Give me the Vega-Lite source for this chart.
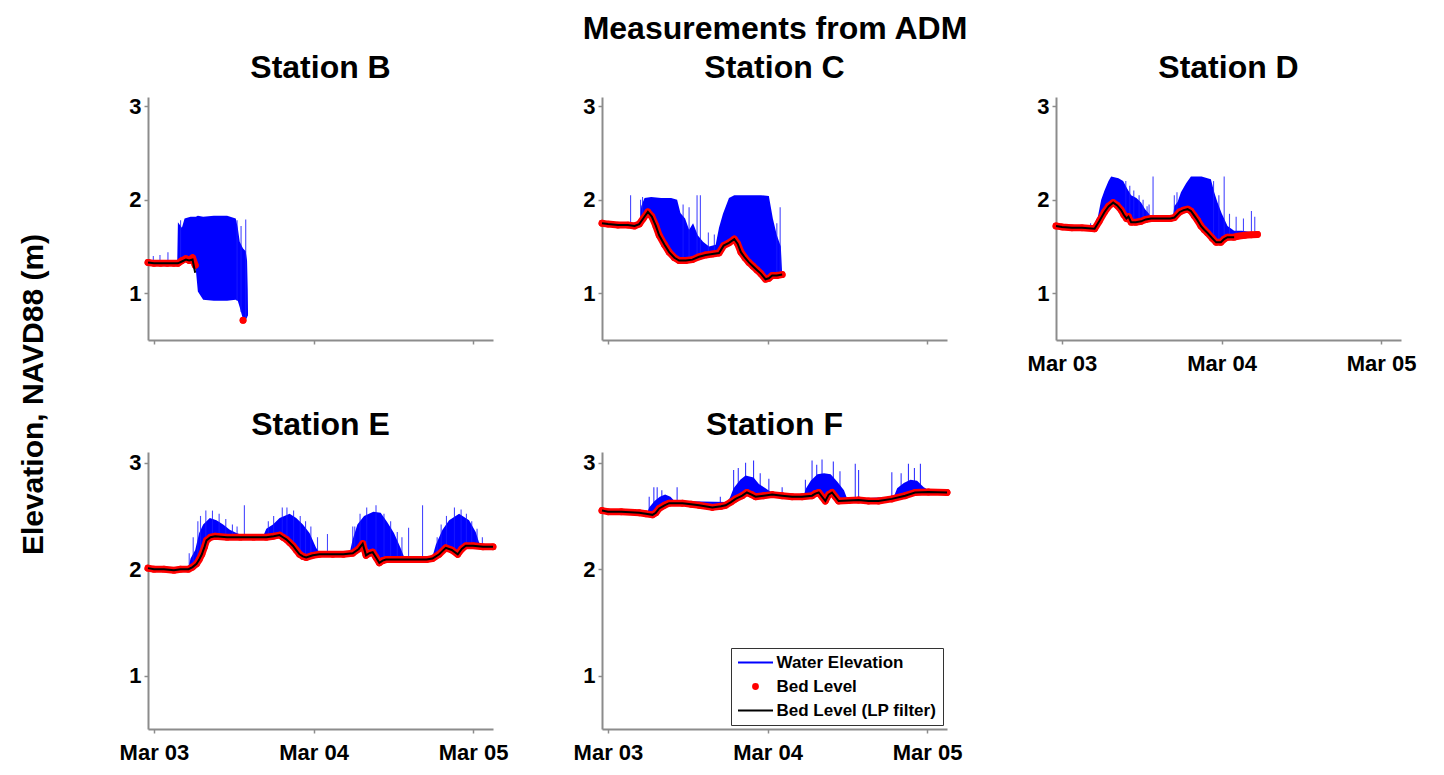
{
 "$schema": "https://vega.github.io/schema/vega-lite/v6.json",
 "background": "white",
 "padding": {"left": 18, "top": 13, "right": 5, "bottom": 5},
 "title": {"text": "Measurements from ADM", "anchor": "middle", "frame": "bounds", "dx": 58, "offset": 6, "fontSize": 32},
 "datasets": {
  "bed": [
   {"s":"B","t":"2024-03-02T23:06","bed":1.33,"lp":1.33},
   {"s":"B","t":"2024-03-03T00:00","bed":1.32,"lp":1.32},
   {"s":"B","t":"2024-03-03T01:00","bed":1.32,"lp":1.32},
   {"s":"B","t":"2024-03-03T02:00","bed":1.32,"lp":1.32},
   {"s":"B","t":"2024-03-03T03:00","bed":1.32,"lp":1.32},
   {"s":"B","t":"2024-03-03T03:36","bed":1.32,"lp":1.32},
   {"s":"B","t":"2024-03-03T04:12","bed":1.35,"lp":1.34},
   {"s":"B","t":"2024-03-03T04:48","bed":1.37,"lp":1.36},
   {"s":"B","t":"2024-03-03T05:18","bed":1.35,"lp":1.35},
   {"s":"B","t":"2024-03-03T05:48","bed":1.38,"lp":1.36},
   {"s":"B","t":"2024-03-03T06:12","bed":1.30,"lp":1.22},
   {"s":"B","t":"2024-03-03T09:00","bed":null,"lp":null},
   {"s":"B","t":"2024-03-03T13:24","bed":0.71,"lp":null},

   {"s":"C","t":"2024-03-02T23:06","bed":1.75,"lp":1.75},
   {"s":"C","t":"2024-03-03T00:00","bed":1.74,"lp":1.74},
   {"s":"C","t":"2024-03-03T01:30","bed":1.73,"lp":1.73},
   {"s":"C","t":"2024-03-03T03:00","bed":1.73,"lp":1.73},
   {"s":"C","t":"2024-03-03T04:00","bed":1.72,"lp":1.72},
   {"s":"C","t":"2024-03-03T04:42","bed":1.74,"lp":1.74},
   {"s":"C","t":"2024-03-03T05:18","bed":1.80,"lp":1.80},
   {"s":"C","t":"2024-03-03T06:00","bed":1.87,"lp":1.87},
   {"s":"C","t":"2024-03-03T06:36","bed":1.82,"lp":1.82},
   {"s":"C","t":"2024-03-03T07:12","bed":1.72,"lp":1.72},
   {"s":"C","t":"2024-03-03T07:42","bed":1.62,"lp":1.62},
   {"s":"C","t":"2024-03-03T08:30","bed":1.52,"lp":1.52},
   {"s":"C","t":"2024-03-03T09:12","bed":1.44,"lp":1.44},
   {"s":"C","t":"2024-03-03T10:00","bed":1.38,"lp":1.38},
   {"s":"C","t":"2024-03-03T10:42","bed":1.35,"lp":1.35},
   {"s":"C","t":"2024-03-03T11:42","bed":1.35,"lp":1.35},
   {"s":"C","t":"2024-03-03T12:42","bed":1.36,"lp":1.36},
   {"s":"C","t":"2024-03-03T13:42","bed":1.39,"lp":1.39},
   {"s":"C","t":"2024-03-03T14:42","bed":1.41,"lp":1.41},
   {"s":"C","t":"2024-03-03T15:42","bed":1.42,"lp":1.42},
   {"s":"C","t":"2024-03-03T16:42","bed":1.43,"lp":1.43},
   {"s":"C","t":"2024-03-03T17:24","bed":1.51,"lp":1.51},
   {"s":"C","t":"2024-03-03T18:12","bed":1.54,"lp":1.54},
   {"s":"C","t":"2024-03-03T19:00","bed":1.58,"lp":1.58},
   {"s":"C","t":"2024-03-03T19:30","bed":1.53,"lp":1.53},
   {"s":"C","t":"2024-03-03T20:00","bed":1.44,"lp":1.44},
   {"s":"C","t":"2024-03-03T20:36","bed":1.38,"lp":1.38},
   {"s":"C","t":"2024-03-03T21:12","bed":1.33,"lp":1.33},
   {"s":"C","t":"2024-03-03T21:48","bed":1.29,"lp":1.29},
   {"s":"C","t":"2024-03-03T22:24","bed":1.25,"lp":1.25},
   {"s":"C","t":"2024-03-03T23:00","bed":1.21,"lp":1.21},
   {"s":"C","t":"2024-03-03T23:42","bed":1.15,"lp":1.15},
   {"s":"C","t":"2024-03-04T00:12","bed":1.16,"lp":1.16},
   {"s":"C","t":"2024-03-04T00:42","bed":1.19,"lp":1.19},
   {"s":"C","t":"2024-03-04T01:24","bed":1.19,"lp":1.19},
   {"s":"C","t":"2024-03-04T02:12","bed":1.20,"lp":1.20},

   {"s":"D","t":"2024-03-02T23:06","bed":1.72,"lp":1.72},
   {"s":"D","t":"2024-03-03T00:00","bed":1.71,"lp":1.71},
   {"s":"D","t":"2024-03-03T01:30","bed":1.70,"lp":1.70},
   {"s":"D","t":"2024-03-03T03:00","bed":1.70,"lp":1.70},
   {"s":"D","t":"2024-03-03T04:54","bed":1.69,"lp":1.69},
   {"s":"D","t":"2024-03-03T05:36","bed":1.77,"lp":1.77},
   {"s":"D","t":"2024-03-03T06:24","bed":1.87,"lp":1.87},
   {"s":"D","t":"2024-03-03T07:00","bed":1.93,"lp":1.93},
   {"s":"D","t":"2024-03-03T07:42","bed":1.97,"lp":1.97},
   {"s":"D","t":"2024-03-03T08:18","bed":1.94,"lp":1.94},
   {"s":"D","t":"2024-03-03T08:54","bed":1.89,"lp":1.89},
   {"s":"D","t":"2024-03-03T09:18","bed":1.84,"lp":1.84},
   {"s":"D","t":"2024-03-03T09:42","bed":1.80,"lp":1.80},
   {"s":"D","t":"2024-03-03T10:00","bed":1.82,"lp":1.82},
   {"s":"D","t":"2024-03-03T10:24","bed":1.76,"lp":1.76},
   {"s":"D","t":"2024-03-03T11:06","bed":1.76,"lp":1.76},
   {"s":"D","t":"2024-03-03T11:54","bed":1.77,"lp":1.77},
   {"s":"D","t":"2024-03-03T12:36","bed":1.79,"lp":1.79},
   {"s":"D","t":"2024-03-03T13:24","bed":1.80,"lp":1.80},
   {"s":"D","t":"2024-03-03T14:30","bed":1.80,"lp":1.80},
   {"s":"D","t":"2024-03-03T15:24","bed":1.80,"lp":1.80},
   {"s":"D","t":"2024-03-03T16:18","bed":1.80,"lp":1.80},
   {"s":"D","t":"2024-03-03T16:54","bed":1.81,"lp":1.81},
   {"s":"D","t":"2024-03-03T17:42","bed":1.87,"lp":1.87},
   {"s":"D","t":"2024-03-03T18:18","bed":1.89,"lp":1.89},
   {"s":"D","t":"2024-03-03T18:54","bed":1.90,"lp":1.90},
   {"s":"D","t":"2024-03-03T19:24","bed":1.88,"lp":1.88},
   {"s":"D","t":"2024-03-03T19:54","bed":1.83,"lp":1.83},
   {"s":"D","t":"2024-03-03T20:24","bed":1.78,"lp":1.78},
   {"s":"D","t":"2024-03-03T20:54","bed":1.72,"lp":1.72},
   {"s":"D","t":"2024-03-03T21:24","bed":1.68,"lp":1.68},
   {"s":"D","t":"2024-03-03T21:54","bed":1.645,"lp":1.645},
   {"s":"D","t":"2024-03-03T22:36","bed":1.59,"lp":1.59},
   {"s":"D","t":"2024-03-03T23:12","bed":1.545,"lp":1.545},
   {"s":"D","t":"2024-03-03T23:54","bed":1.545,"lp":1.545},
   {"s":"D","t":"2024-03-04T00:24","bed":1.58,"lp":1.58},
   {"s":"D","t":"2024-03-04T00:54","bed":1.60,"lp":1.60},
   {"s":"D","t":"2024-03-04T01:54","bed":1.60,"lp":1.60},
   {"s":"D","t":"2024-03-04T02:24","bed":1.61,"lp":null},
   {"s":"D","t":"2024-03-04T03:30","bed":1.62,"lp":null},
   {"s":"D","t":"2024-03-04T04:30","bed":1.625,"lp":null},
   {"s":"D","t":"2024-03-04T05:24","bed":1.63,"lp":null},

   {"s":"E","t":"2024-03-02T23:06","bed":2.01,"lp":2.01},
   {"s":"E","t":"2024-03-03T00:00","bed":2.00,"lp":2.00},
   {"s":"E","t":"2024-03-03T01:30","bed":2.00,"lp":2.00},
   {"s":"E","t":"2024-03-03T03:00","bed":1.99,"lp":1.99},
   {"s":"E","t":"2024-03-03T04:00","bed":2.00,"lp":2.00},
   {"s":"E","t":"2024-03-03T05:12","bed":2.00,"lp":2.00},
   {"s":"E","t":"2024-03-03T05:48","bed":2.02,"lp":2.02},
   {"s":"E","t":"2024-03-03T06:24","bed":2.05,"lp":2.05},
   {"s":"E","t":"2024-03-03T06:48","bed":2.09,"lp":2.09},
   {"s":"E","t":"2024-03-03T07:12","bed":2.14,"lp":2.14},
   {"s":"E","t":"2024-03-03T07:36","bed":2.21,"lp":2.21},
   {"s":"E","t":"2024-03-03T07:54","bed":2.27,"lp":2.27},
   {"s":"E","t":"2024-03-03T08:30","bed":2.30,"lp":2.30},
   {"s":"E","t":"2024-03-03T09:12","bed":2.31,"lp":2.31},
   {"s":"E","t":"2024-03-03T11:00","bed":2.30,"lp":2.30},
   {"s":"E","t":"2024-03-03T13:00","bed":2.30,"lp":2.30},
   {"s":"E","t":"2024-03-03T15:00","bed":2.30,"lp":2.30},
   {"s":"E","t":"2024-03-03T16:54","bed":2.30,"lp":2.30},
   {"s":"E","t":"2024-03-03T18:00","bed":2.31,"lp":2.31},
   {"s":"E","t":"2024-03-03T18:54","bed":2.32,"lp":2.32},
   {"s":"E","t":"2024-03-03T19:24","bed":2.30,"lp":2.30},
   {"s":"E","t":"2024-03-03T19:54","bed":2.28,"lp":2.28},
   {"s":"E","t":"2024-03-03T20:24","bed":2.25,"lp":2.25},
   {"s":"E","t":"2024-03-03T20:54","bed":2.22,"lp":2.22},
   {"s":"E","t":"2024-03-03T21:24","bed":2.18,"lp":2.18},
   {"s":"E","t":"2024-03-03T21:54","bed":2.14,"lp":2.14},
   {"s":"E","t":"2024-03-03T22:24","bed":2.12,"lp":2.12},
   {"s":"E","t":"2024-03-03T22:54","bed":2.11,"lp":2.11},
   {"s":"E","t":"2024-03-03T23:54","bed":2.13,"lp":2.13},
   {"s":"E","t":"2024-03-04T00:54","bed":2.14,"lp":2.14},
   {"s":"E","t":"2024-03-04T02:54","bed":2.14,"lp":2.14},
   {"s":"E","t":"2024-03-04T04:30","bed":2.14,"lp":2.14},
   {"s":"E","t":"2024-03-04T05:54","bed":2.15,"lp":2.15},
   {"s":"E","t":"2024-03-04T06:48","bed":2.19,"lp":2.19},
   {"s":"E","t":"2024-03-04T07:24","bed":2.24,"lp":2.24},
   {"s":"E","t":"2024-03-04T07:54","bed":2.13,"lp":2.13},
   {"s":"E","t":"2024-03-04T08:24","bed":2.15,"lp":2.15},
   {"s":"E","t":"2024-03-04T08:54","bed":2.16,"lp":2.16},
   {"s":"E","t":"2024-03-04T09:24","bed":2.11,"lp":2.11},
   {"s":"E","t":"2024-03-04T09:54","bed":2.06,"lp":2.06},
   {"s":"E","t":"2024-03-04T10:24","bed":2.08,"lp":2.08},
   {"s":"E","t":"2024-03-04T10:54","bed":2.09,"lp":2.09},
   {"s":"E","t":"2024-03-04T12:54","bed":2.09,"lp":2.09},
   {"s":"E","t":"2024-03-04T15:00","bed":2.09,"lp":2.09},
   {"s":"E","t":"2024-03-04T17:00","bed":2.09,"lp":2.09},
   {"s":"E","t":"2024-03-04T17:54","bed":2.10,"lp":2.10},
   {"s":"E","t":"2024-03-04T18:54","bed":2.14,"lp":2.14},
   {"s":"E","t":"2024-03-04T19:54","bed":2.20,"lp":2.20},
   {"s":"E","t":"2024-03-04T20:48","bed":2.18,"lp":2.18},
   {"s":"E","t":"2024-03-04T21:42","bed":2.14,"lp":2.14},
   {"s":"E","t":"2024-03-04T22:18","bed":2.19,"lp":2.19},
   {"s":"E","t":"2024-03-04T22:54","bed":2.22,"lp":2.22},
   {"s":"E","t":"2024-03-05T00:00","bed":2.22,"lp":2.22},
   {"s":"E","t":"2024-03-05T01:30","bed":2.21,"lp":2.21},
   {"s":"E","t":"2024-03-05T03:00","bed":2.21,"lp":2.21},

   {"s":"F","t":"2024-03-02T23:06","bed":2.55,"lp":2.55},
   {"s":"F","t":"2024-03-03T00:00","bed":2.54,"lp":2.54},
   {"s":"F","t":"2024-03-03T02:00","bed":2.54,"lp":2.54},
   {"s":"F","t":"2024-03-03T04:42","bed":2.53,"lp":2.53},
   {"s":"F","t":"2024-03-03T05:42","bed":2.52,"lp":2.52},
   {"s":"F","t":"2024-03-03T06:42","bed":2.51,"lp":2.51},
   {"s":"F","t":"2024-03-03T07:12","bed":2.53,"lp":2.53},
   {"s":"F","t":"2024-03-03T07:42","bed":2.57,"lp":2.57},
   {"s":"F","t":"2024-03-03T08:30","bed":2.60,"lp":2.60},
   {"s":"F","t":"2024-03-03T09:12","bed":2.62,"lp":2.62},
   {"s":"F","t":"2024-03-03T11:12","bed":2.62,"lp":2.62},
   {"s":"F","t":"2024-03-03T12:30","bed":2.61,"lp":2.61},
   {"s":"F","t":"2024-03-03T13:42","bed":2.60,"lp":2.60},
   {"s":"F","t":"2024-03-03T15:42","bed":2.58,"lp":2.58},
   {"s":"F","t":"2024-03-03T17:00","bed":2.59,"lp":2.59},
   {"s":"F","t":"2024-03-03T17:42","bed":2.60,"lp":2.60},
   {"s":"F","t":"2024-03-03T18:30","bed":2.63,"lp":2.63},
   {"s":"F","t":"2024-03-03T19:12","bed":2.66,"lp":2.66},
   {"s":"F","t":"2024-03-03T20:12","bed":2.69,"lp":2.69},
   {"s":"F","t":"2024-03-03T20:54","bed":2.72,"lp":2.72},
   {"s":"F","t":"2024-03-03T21:36","bed":2.70,"lp":2.70},
   {"s":"F","t":"2024-03-03T22:12","bed":2.68,"lp":2.68},
   {"s":"F","t":"2024-03-03T23:24","bed":2.69,"lp":2.69},
   {"s":"F","t":"2024-03-04T00:42","bed":2.70,"lp":2.70},
   {"s":"F","t":"2024-03-04T02:12","bed":2.69,"lp":2.69},
   {"s":"F","t":"2024-03-04T03:42","bed":2.68,"lp":2.68},
   {"s":"F","t":"2024-03-04T05:12","bed":2.68,"lp":2.68},
   {"s":"F","t":"2024-03-04T06:42","bed":2.69,"lp":2.69},
   {"s":"F","t":"2024-03-04T07:12","bed":2.71,"lp":2.71},
   {"s":"F","t":"2024-03-04T07:42","bed":2.72,"lp":2.72},
   {"s":"F","t":"2024-03-04T08:12","bed":2.68,"lp":2.68},
   {"s":"F","t":"2024-03-04T08:42","bed":2.64,"lp":2.64},
   {"s":"F","t":"2024-03-04T09:12","bed":2.70,"lp":2.70},
   {"s":"F","t":"2024-03-04T09:42","bed":2.72,"lp":2.72},
   {"s":"F","t":"2024-03-04T10:12","bed":2.68,"lp":2.68},
   {"s":"F","t":"2024-03-04T10:42","bed":2.64,"lp":2.64},
   {"s":"F","t":"2024-03-04T12:12","bed":2.645,"lp":2.645},
   {"s":"F","t":"2024-03-04T13:42","bed":2.65,"lp":2.65},
   {"s":"F","t":"2024-03-04T15:12","bed":2.64,"lp":2.64},
   {"s":"F","t":"2024-03-04T16:42","bed":2.64,"lp":2.64},
   {"s":"F","t":"2024-03-04T18:42","bed":2.66,"lp":2.66},
   {"s":"F","t":"2024-03-04T20:42","bed":2.69,"lp":2.69},
   {"s":"F","t":"2024-03-04T22:12","bed":2.72,"lp":2.72},
   {"s":"F","t":"2024-03-05T00:12","bed":2.725,"lp":2.725},
   {"s":"F","t":"2024-03-05T03:00","bed":2.72,"lp":2.72}
  ],
  "water": [
   {"s":"B","t":"2024-03-03T03:30","lo":1.33,"hi":1.34},
   {"s":"B","t":"2024-03-03T03:36","lo":1.33,"hi":1.76},
   {"s":"B","t":"2024-03-03T04:12","lo":1.34,"hi":1.70},
   {"s":"B","t":"2024-03-03T04:36","lo":1.35,"hi":1.80},
   {"s":"B","t":"2024-03-03T05:30","lo":1.35,"hi":1.82},
   {"s":"B","t":"2024-03-03T06:18","lo":1.25,"hi":1.82},
   {"s":"B","t":"2024-03-03T06:36","lo":1.02,"hi":1.83},
   {"s":"B","t":"2024-03-03T07:24","lo":0.93,"hi":1.82},
   {"s":"B","t":"2024-03-03T09:00","lo":0.92,"hi":1.83},
   {"s":"B","t":"2024-03-03T11:00","lo":0.92,"hi":1.83},
   {"s":"B","t":"2024-03-03T12:18","lo":0.93,"hi":1.80},
   {"s":"B","t":"2024-03-03T12:36","lo":0.92,"hi":1.70},
   {"s":"B","t":"2024-03-03T12:54","lo":0.85,"hi":1.55},
   {"s":"B","t":"2024-03-03T13:24","lo":0.72,"hi":1.48},
   {"s":"B","t":"2024-03-03T13:48","lo":0.72,"hi":1.45},
   {"s":"B","t":"2024-03-03T14:00","lo":0.74,"hi":1.35},
   {"s":"B","t":"2024-03-03T14:06","lo":0.76,"hi":1.05},
   {"s":"B","t":"2024-03-03T14:09","lo":0.76,"hi":0.77},

   {"s":"C","t":"2024-03-03T04:48","lo":1.75,"hi":1.76},
   {"s":"C","t":"2024-03-03T05:00","lo":1.76,"hi":1.93},
   {"s":"C","t":"2024-03-03T05:30","lo":1.82,"hi":2.02},
   {"s":"C","t":"2024-03-03T06:30","lo":1.83,"hi":2.03},
   {"s":"C","t":"2024-03-03T08:00","lo":1.58,"hi":2.02},
   {"s":"C","t":"2024-03-03T09:30","lo":1.42,"hi":2.02},
   {"s":"C","t":"2024-03-03T10:24","lo":1.37,"hi":2.00},
   {"s":"C","t":"2024-03-03T10:54","lo":1.36,"hi":1.86},
   {"s":"C","t":"2024-03-03T11:36","lo":1.36,"hi":1.80},
   {"s":"C","t":"2024-03-03T12:12","lo":1.36,"hi":1.68},
   {"s":"C","t":"2024-03-03T12:48","lo":1.37,"hi":1.75},
   {"s":"C","t":"2024-03-03T13:30","lo":1.39,"hi":1.62},
   {"s":"C","t":"2024-03-03T14:18","lo":1.41,"hi":1.55},
   {"s":"C","t":"2024-03-03T15:12","lo":1.42,"hi":1.50},
   {"s":"C","t":"2024-03-03T16:12","lo":1.43,"hi":1.52},
   {"s":"C","t":"2024-03-03T16:42","lo":1.45,"hi":1.70},
   {"s":"C","t":"2024-03-03T17:18","lo":1.52,"hi":1.85},
   {"s":"C","t":"2024-03-03T18:12","lo":1.55,"hi":2.02},
   {"s":"C","t":"2024-03-03T19:00","lo":1.58,"hi":2.05},
   {"s":"C","t":"2024-03-03T21:00","lo":1.35,"hi":2.05},
   {"s":"C","t":"2024-03-03T23:00","lo":1.22,"hi":2.05},
   {"s":"C","t":"2024-03-04T00:12","lo":1.16,"hi":2.04},
   {"s":"C","t":"2024-03-04T00:48","lo":1.18,"hi":1.80},
   {"s":"C","t":"2024-03-04T01:24","lo":1.19,"hi":1.62},
   {"s":"C","t":"2024-03-04T02:00","lo":1.20,"hi":1.50},
   {"s":"C","t":"2024-03-04T02:12","lo":1.20,"hi":1.21},

   {"s":"D","t":"2024-03-03T04:54","lo":1.69,"hi":1.71},
   {"s":"D","t":"2024-03-03T05:06","lo":1.70,"hi":1.78},
   {"s":"D","t":"2024-03-03T05:24","lo":1.73,"hi":1.82},
   {"s":"D","t":"2024-03-03T05:54","lo":1.76,"hi":2.00},
   {"s":"D","t":"2024-03-03T06:24","lo":1.87,"hi":2.10},
   {"s":"D","t":"2024-03-03T07:00","lo":1.93,"hi":2.20},
   {"s":"D","t":"2024-03-03T07:24","lo":1.95,"hi":2.25},
   {"s":"D","t":"2024-03-03T08:30","lo":1.93,"hi":2.23},
   {"s":"D","t":"2024-03-03T09:12","lo":1.84,"hi":2.20},
   {"s":"D","t":"2024-03-03T09:48","lo":1.81,"hi":2.12},
   {"s":"D","t":"2024-03-03T10:24","lo":1.76,"hi":2.05},
   {"s":"D","t":"2024-03-03T11:12","lo":1.76,"hi":2.02},
   {"s":"D","t":"2024-03-03T11:54","lo":1.77,"hi":1.97},
   {"s":"D","t":"2024-03-03T12:30","lo":1.79,"hi":1.90},
   {"s":"D","t":"2024-03-03T13:00","lo":1.80,"hi":1.86},
   {"s":"D","t":"2024-03-03T13:24","lo":1.80,"hi":1.82},
   {"s":"D","t":"2024-03-03T16:42","lo":1.81,"hi":1.82},
   {"s":"D","t":"2024-03-03T16:54","lo":1.81,"hi":1.93},
   {"s":"D","t":"2024-03-03T17:24","lo":1.85,"hi":1.98},
   {"s":"D","t":"2024-03-03T17:54","lo":1.88,"hi":2.08},
   {"s":"D","t":"2024-03-03T18:42","lo":1.90,"hi":2.18},
   {"s":"D","t":"2024-03-03T19:24","lo":1.88,"hi":2.25},
   {"s":"D","t":"2024-03-03T21:00","lo":1.71,"hi":2.25},
   {"s":"D","t":"2024-03-03T22:24","lo":1.62,"hi":2.22},
   {"s":"D","t":"2024-03-03T22:54","lo":1.57,"hi":2.08},
   {"s":"D","t":"2024-03-03T23:24","lo":1.545,"hi":1.97},
   {"s":"D","t":"2024-03-04T00:00","lo":1.55,"hi":1.86},
   {"s":"D","t":"2024-03-04T00:54","lo":1.60,"hi":1.72},
   {"s":"D","t":"2024-03-04T01:54","lo":1.60,"hi":1.67},
   {"s":"D","t":"2024-03-04T03:00","lo":1.615,"hi":1.67},
   {"s":"D","t":"2024-03-04T05:12","lo":1.63,"hi":1.65},

   {"s":"E","t":"2024-03-03T05:12","lo":2.00,"hi":2.02},
   {"s":"E","t":"2024-03-03T05:30","lo":2.01,"hi":2.10},
   {"s":"E","t":"2024-03-03T06:12","lo":2.03,"hi":2.18},
   {"s":"E","t":"2024-03-03T06:48","lo":2.09,"hi":2.34},
   {"s":"E","t":"2024-03-03T07:24","lo":2.16,"hi":2.42},
   {"s":"E","t":"2024-03-03T08:24","lo":2.30,"hi":2.48},
   {"s":"E","t":"2024-03-03T09:24","lo":2.31,"hi":2.46},
   {"s":"E","t":"2024-03-03T10:24","lo":2.30,"hi":2.42},
   {"s":"E","t":"2024-03-03T11:24","lo":2.30,"hi":2.37},
   {"s":"E","t":"2024-03-03T12:24","lo":2.30,"hi":2.34},
   {"s":"E","t":"2024-03-03T13:12","lo":2.30,"hi":2.32},
   {"s":"E","t":"2024-03-03T16:30","lo":2.30,"hi":2.32},
   {"s":"E","t":"2024-03-03T16:54","lo":2.30,"hi":2.38},
   {"s":"E","t":"2024-03-03T17:54","lo":2.30,"hi":2.42},
   {"s":"E","t":"2024-03-03T18:54","lo":2.32,"hi":2.48},
   {"s":"E","t":"2024-03-03T20:24","lo":2.25,"hi":2.52},
   {"s":"E","t":"2024-03-03T21:24","lo":2.18,"hi":2.48},
   {"s":"E","t":"2024-03-03T22:24","lo":2.12,"hi":2.42},
   {"s":"E","t":"2024-03-03T23:24","lo":2.12,"hi":2.34},
   {"s":"E","t":"2024-03-04T00:24","lo":2.13,"hi":2.20},
   {"s":"E","t":"2024-03-04T00:54","lo":2.14,"hi":2.16},
   {"s":"E","t":"2024-03-04T05:30","lo":2.15,"hi":2.17},
   {"s":"E","t":"2024-03-04T05:54","lo":2.15,"hi":2.28},
   {"s":"E","t":"2024-03-04T06:36","lo":2.18,"hi":2.42},
   {"s":"E","t":"2024-03-04T07:36","lo":2.22,"hi":2.50},
   {"s":"E","t":"2024-03-04T09:00","lo":2.14,"hi":2.54},
   {"s":"E","t":"2024-03-04T10:06","lo":2.07,"hi":2.53},
   {"s":"E","t":"2024-03-04T11:06","lo":2.09,"hi":2.44},
   {"s":"E","t":"2024-03-04T12:06","lo":2.09,"hi":2.34},
   {"s":"E","t":"2024-03-04T13:06","lo":2.09,"hi":2.20},
   {"s":"E","t":"2024-03-04T13:36","lo":2.09,"hi":2.12},
   {"s":"E","t":"2024-03-04T17:54","lo":2.10,"hi":2.12},
   {"s":"E","t":"2024-03-04T18:24","lo":2.12,"hi":2.23},
   {"s":"E","t":"2024-03-04T19:24","lo":2.18,"hi":2.37},
   {"s":"E","t":"2024-03-04T20:24","lo":2.19,"hi":2.46},
   {"s":"E","t":"2024-03-04T21:54","lo":2.15,"hi":2.52},
   {"s":"E","t":"2024-03-04T23:24","lo":2.22,"hi":2.46},
   {"s":"E","t":"2024-03-05T00:24","lo":2.22,"hi":2.35},
   {"s":"E","t":"2024-03-05T00:54","lo":2.22,"hi":2.25},
   {"s":"E","t":"2024-03-05T01:24","lo":2.21,"hi":2.22},

   {"s":"F","t":"2024-03-03T05:54","lo":2.52,"hi":2.53},
   {"s":"F","t":"2024-03-03T06:12","lo":2.52,"hi":2.58},
   {"s":"F","t":"2024-03-03T07:00","lo":2.52,"hi":2.64},
   {"s":"F","t":"2024-03-03T07:48","lo":2.57,"hi":2.68},
   {"s":"F","t":"2024-03-03T08:36","lo":2.60,"hi":2.70},
   {"s":"F","t":"2024-03-03T09:24","lo":2.62,"hi":2.68},
   {"s":"F","t":"2024-03-03T10:00","lo":2.62,"hi":2.64},
   {"s":"F","t":"2024-03-03T18:00","lo":2.61,"hi":2.63},
   {"s":"F","t":"2024-03-03T18:24","lo":2.62,"hi":2.68},
   {"s":"F","t":"2024-03-03T18:54","lo":2.65,"hi":2.76},
   {"s":"F","t":"2024-03-03T19:54","lo":2.69,"hi":2.84},
   {"s":"F","t":"2024-03-03T20:42","lo":2.72,"hi":2.88},
   {"s":"F","t":"2024-03-03T21:54","lo":2.69,"hi":2.86},
   {"s":"F","t":"2024-03-03T22:42","lo":2.68,"hi":2.80},
   {"s":"F","t":"2024-03-03T23:42","lo":2.69,"hi":2.76},
   {"s":"F","t":"2024-03-04T00:24","lo":2.70,"hi":2.73},
   {"s":"F","t":"2024-03-04T01:00","lo":2.70,"hi":2.71},
   {"s":"F","t":"2024-03-04T05:30","lo":2.68,"hi":2.70},
   {"s":"F","t":"2024-03-04T05:48","lo":2.68,"hi":2.76},
   {"s":"F","t":"2024-03-04T06:30","lo":2.69,"hi":2.83},
   {"s":"F","t":"2024-03-04T07:30","lo":2.72,"hi":2.89},
   {"s":"F","t":"2024-03-04T08:30","lo":2.66,"hi":2.90},
   {"s":"F","t":"2024-03-04T09:30","lo":2.71,"hi":2.89},
   {"s":"F","t":"2024-03-04T10:30","lo":2.65,"hi":2.82},
   {"s":"F","t":"2024-03-04T11:30","lo":2.645,"hi":2.74},
   {"s":"F","t":"2024-03-04T12:00","lo":2.645,"hi":2.66},
   {"s":"F","t":"2024-03-04T19:00","lo":2.66,"hi":2.68},
   {"s":"F","t":"2024-03-04T19:30","lo":2.67,"hi":2.76},
   {"s":"F","t":"2024-03-04T20:30","lo":2.69,"hi":2.81},
   {"s":"F","t":"2024-03-04T21:30","lo":2.71,"hi":2.84},
   {"s":"F","t":"2024-03-04T22:30","lo":2.72,"hi":2.83},
   {"s":"F","t":"2024-03-04T23:30","lo":2.72,"hi":2.77},
   {"s":"F","t":"2024-03-05T00:18","lo":2.725,"hi":2.74}
  ],
  "spike": [
   {"s":"B","t":"2024-03-02T23:54","lo":1.32,"hi":1.40},
   {"s":"B","t":"2024-03-03T00:54","lo":1.32,"hi":1.41},
   {"s":"B","t":"2024-03-03T02:06","lo":1.32,"hi":1.44},
   {"s":"B","t":"2024-03-03T04:00","lo":1.34,"hi":1.78},
   {"s":"B","t":"2024-03-03T12:30","lo":0.92,"hi":1.78},
   {"s":"B","t":"2024-03-03T13:06","lo":0.80,"hi":1.72},
   {"s":"B","t":"2024-03-03T13:48","lo":0.72,"hi":1.79},
   {"s":"C","t":"2024-03-03T03:24","lo":1.73,"hi":2.05},
   {"s":"C","t":"2024-03-03T04:54","lo":1.76,"hi":2.00},
   {"s":"C","t":"2024-03-03T05:12","lo":1.78,"hi":2.03},
   {"s":"C","t":"2024-03-03T11:18","lo":1.36,"hi":1.95},
   {"s":"C","t":"2024-03-03T12:12","lo":1.36,"hi":1.92},
   {"s":"C","t":"2024-03-03T13:24","lo":1.39,"hi":2.05},
   {"s":"C","t":"2024-03-03T13:54","lo":1.40,"hi":2.05},
   {"s":"C","t":"2024-03-03T15:06","lo":1.42,"hi":1.65},
   {"s":"C","t":"2024-03-03T16:00","lo":1.43,"hi":1.63},
   {"s":"C","t":"2024-03-04T01:24","lo":1.19,"hi":1.75},
   {"s":"C","t":"2024-03-04T01:54","lo":1.20,"hi":1.92},
   {"s":"D","t":"2024-03-03T04:18","lo":1.69,"hi":1.75},
   {"s":"D","t":"2024-03-03T09:36","lo":1.81,"hi":2.20},
   {"s":"D","t":"2024-03-03T10:12","lo":1.78,"hi":2.15},
   {"s":"D","t":"2024-03-03T10:48","lo":1.76,"hi":2.10},
   {"s":"D","t":"2024-03-03T11:36","lo":1.76,"hi":2.05},
   {"s":"D","t":"2024-03-03T12:12","lo":1.78,"hi":2.00},
   {"s":"D","t":"2024-03-03T12:48","lo":1.80,"hi":1.93},
   {"s":"D","t":"2024-03-03T13:06","lo":1.80,"hi":1.95},
   {"s":"D","t":"2024-03-03T13:42","lo":1.80,"hi":2.25},
   {"s":"D","t":"2024-03-03T16:54","lo":1.81,"hi":2.05},
   {"s":"D","t":"2024-03-03T17:18","lo":1.84,"hi":2.08},
   {"s":"D","t":"2024-03-03T22:48","lo":1.58,"hi":2.20},
   {"s":"D","t":"2024-03-03T23:36","lo":1.545,"hi":2.05},
   {"s":"D","t":"2024-03-04T00:24","lo":1.58,"hi":2.25},
   {"s":"D","t":"2024-03-04T01:12","lo":1.60,"hi":1.85},
   {"s":"D","t":"2024-03-04T02:12","lo":1.61,"hi":1.82},
   {"s":"D","t":"2024-03-04T03:18","lo":1.62,"hi":1.80},
   {"s":"D","t":"2024-03-04T04:30","lo":1.625,"hi":1.88},
   {"s":"D","t":"2024-03-04T05:00","lo":1.63,"hi":1.82},
   {"s":"E","t":"2024-03-03T05:18","lo":2.00,"hi":2.15},
   {"s":"E","t":"2024-03-03T05:54","lo":2.02,"hi":2.30},
   {"s":"E","t":"2024-03-03T06:36","lo":2.07,"hi":2.45},
   {"s":"E","t":"2024-03-03T07:00","lo":2.10,"hi":2.50},
   {"s":"E","t":"2024-03-03T07:48","lo":2.25,"hi":2.55},
   {"s":"E","t":"2024-03-03T08:48","lo":2.31,"hi":2.55},
   {"s":"E","t":"2024-03-03T09:48","lo":2.30,"hi":2.52},
   {"s":"E","t":"2024-03-03T10:48","lo":2.30,"hi":2.47},
   {"s":"E","t":"2024-03-03T11:48","lo":2.30,"hi":2.42},
   {"s":"E","t":"2024-03-03T12:30","lo":2.30,"hi":2.40},
   {"s":"E","t":"2024-03-03T13:36","lo":2.30,"hi":2.60},
   {"s":"E","t":"2024-03-03T17:12","lo":2.30,"hi":2.45},
   {"s":"E","t":"2024-03-03T18:00","lo":2.31,"hi":2.50},
   {"s":"E","t":"2024-03-03T19:18","lo":2.30,"hi":2.58},
   {"s":"E","t":"2024-03-03T20:00","lo":2.27,"hi":2.58},
   {"s":"E","t":"2024-03-03T21:00","lo":2.21,"hi":2.55},
   {"s":"E","t":"2024-03-03T22:00","lo":2.14,"hi":2.50},
   {"s":"E","t":"2024-03-03T22:48","lo":2.11,"hi":2.45},
   {"s":"E","t":"2024-03-03T23:36","lo":2.12,"hi":2.40},
   {"s":"E","t":"2024-03-04T00:36","lo":2.14,"hi":2.30},
   {"s":"E","t":"2024-03-04T02:06","lo":2.14,"hi":2.33},
   {"s":"E","t":"2024-03-04T05:54","lo":2.15,"hi":2.40},
   {"s":"E","t":"2024-03-04T06:12","lo":2.16,"hi":2.40},
   {"s":"E","t":"2024-03-04T07:00","lo":2.20,"hi":2.52},
   {"s":"E","t":"2024-03-04T08:00","lo":2.14,"hi":2.58},
   {"s":"E","t":"2024-03-04T09:24","lo":2.11,"hi":2.60},
   {"s":"E","t":"2024-03-04T10:36","lo":2.08,"hi":2.52},
   {"s":"E","t":"2024-03-04T11:36","lo":2.09,"hi":2.45},
   {"s":"E","t":"2024-03-04T12:36","lo":2.09,"hi":2.35},
   {"s":"E","t":"2024-03-04T13:18","lo":2.09,"hi":2.30},
   {"s":"E","t":"2024-03-04T14:18","lo":2.09,"hi":2.39},
   {"s":"E","t":"2024-03-04T16:24","lo":2.09,"hi":2.60},
   {"s":"E","t":"2024-03-04T18:36","lo":2.13,"hi":2.30},
   {"s":"E","t":"2024-03-04T19:12","lo":2.17,"hi":2.42},
   {"s":"E","t":"2024-03-04T20:00","lo":2.20,"hi":2.50},
   {"s":"E","t":"2024-03-04T21:12","lo":2.16,"hi":2.58},
   {"s":"E","t":"2024-03-04T22:12","lo":2.18,"hi":2.56},
   {"s":"E","t":"2024-03-04T23:00","lo":2.22,"hi":2.52},
   {"s":"E","t":"2024-03-04T23:48","lo":2.22,"hi":2.45},
   {"s":"E","t":"2024-03-05T00:36","lo":2.22,"hi":2.38},
   {"s":"E","t":"2024-03-05T01:24","lo":2.21,"hi":2.30},
   {"s":"F","t":"2024-03-03T06:12","lo":2.52,"hi":2.68},
   {"s":"F","t":"2024-03-03T06:54","lo":2.52,"hi":2.77},
   {"s":"F","t":"2024-03-03T07:24","lo":2.54,"hi":2.77},
   {"s":"F","t":"2024-03-03T08:06","lo":2.58,"hi":2.74},
   {"s":"F","t":"2024-03-03T10:24","lo":2.62,"hi":2.77},
   {"s":"F","t":"2024-03-03T16:54","lo":2.59,"hi":2.68},
   {"s":"F","t":"2024-03-03T18:54","lo":2.65,"hi":2.93},
   {"s":"F","t":"2024-03-03T19:36","lo":2.68,"hi":2.95},
   {"s":"F","t":"2024-03-03T20:42","lo":2.72,"hi":3.00},
   {"s":"F","t":"2024-03-03T21:54","lo":2.69,"hi":3.02},
   {"s":"F","t":"2024-03-03T22:54","lo":2.68,"hi":2.90},
   {"s":"F","t":"2024-03-04T00:12","lo":2.70,"hi":2.85},
   {"s":"F","t":"2024-03-04T02:12","lo":2.69,"hi":2.77},
   {"s":"F","t":"2024-03-04T05:42","lo":2.68,"hi":2.84},
   {"s":"F","t":"2024-03-04T06:42","lo":2.69,"hi":3.02},
   {"s":"F","t":"2024-03-04T07:24","lo":2.71,"hi":2.98},
   {"s":"F","t":"2024-03-04T08:12","lo":2.68,"hi":3.03},
   {"s":"F","t":"2024-03-04T09:54","lo":2.71,"hi":3.01},
   {"s":"F","t":"2024-03-04T10:54","lo":2.65,"hi":2.92},
   {"s":"F","t":"2024-03-04T13:12","lo":2.65,"hi":2.99},
   {"s":"F","t":"2024-03-04T13:42","lo":2.65,"hi":2.93},
   {"s":"F","t":"2024-03-04T18:42","lo":2.66,"hi":2.91},
   {"s":"F","t":"2024-03-04T20:06","lo":2.68,"hi":2.90},
   {"s":"F","t":"2024-03-04T21:12","lo":2.71,"hi":2.99},
   {"s":"F","t":"2024-03-04T22:06","lo":2.72,"hi":2.95},
   {"s":"F","t":"2024-03-04T23:00","lo":2.72,"hi":2.99}
  ]
 },
 "columns": 3,
 "align": "each",
 "bounds": "flush",
 "spacing": {"row": 112, "column": 109},
 "resolve": {"scale": {"color": "independent", "shape": "independent"}, "legend": {"color": "independent", "shape": "independent"}},
 "concat": [
  {
   "width": 345, "height": 243,
   "title": {"text": "Station B"},
   "encoding": {"x": {"field": "t", "type": "temporal", "scale": {"domain": [{"year":2024,"month":3,"date":2,"hours":23,"minutes":6},{"year":2024,"month":3,"date":5,"hours":3}]}, "axis": {"values": [{"year":2024,"month":3,"date":3},{"year":2024,"month":3,"date":4},{"year":2024,"month":3,"date":5}], "format": "%b %d", "title": null, "labels": false}}},
   "layer": [
    {"data": {"name": "water"}, "transform": [{"filter": "datum.s === 'B'"}], "mark": {"type": "area", "color": "#0000ff", "opacity": 1}, "encoding": {"y": {"field": "hi", "type": "quantitative", "scale": {"domain": [0.5, 3.1]}, "axis": {"values": [1, 2, 3], "title": "Elevation, NAVD88 (m)", "titleX": -106, "titleY": 297, "titleAngle": -90, "titleAlign": "center", "titleBaseline": "alphabetic"}}, "y2": {"field": "lo"}}},
    {"data": {"name": "spike"}, "transform": [{"filter": "datum.s === 'B'"}], "mark": {"type": "rule", "color": "#1a1aff", "strokeWidth": 1.1, "opacity": 0.8}, "encoding": {"y": {"field": "lo", "type": "quantitative", "scale": {"domain": [0.5, 3.1]}, "axis": {"values": [1, 2, 3]}}, "y2": {"field": "hi"}}},
    {"data": {"name": "bed"}, "transform": [{"filter": "datum.s === 'B'"}], "mark": {"type": "line", "color": "#ff0000", "strokeWidth": 7, "strokeCap": "round", "strokeJoin": "round", "invalid": "break-paths-show-domains"}, "encoding": {"y": {"field": "bed", "type": "quantitative", "scale": {"domain": [0.5, 3.1]}, "axis": {"values": [1, 2, 3]}}}},
    {"data": {"name": "bed"}, "transform": [{"filter": "datum.s === 'B'"}], "mark": {"type": "circle", "color": "#ff0000", "size": 45, "opacity": 1}, "encoding": {"y": {"field": "bed", "type": "quantitative", "scale": {"domain": [0.5, 3.1]}, "axis": {"values": [1, 2, 3]}}}},
    {"data": {"name": "bed"}, "transform": [{"filter": "datum.s === 'B'"}], "mark": {"type": "line", "color": "#000000", "strokeWidth": 2}, "encoding": {"y": {"field": "lp", "type": "quantitative", "scale": {"domain": [0.5, 3.1]}, "axis": {"values": [1, 2, 3]}}}}
   ]
  },
  {
   "width": 345, "height": 243,
   "title": {"text": "Station C"},
   "encoding": {"x": {"field": "t", "type": "temporal", "scale": {"domain": [{"year":2024,"month":3,"date":2,"hours":23,"minutes":6},{"year":2024,"month":3,"date":5,"hours":3}]}, "axis": {"values": [{"year":2024,"month":3,"date":3},{"year":2024,"month":3,"date":4},{"year":2024,"month":3,"date":5}], "format": "%b %d", "title": null, "labels": false}}},
   "layer": [
    {"data": {"name": "water"}, "transform": [{"filter": "datum.s === 'C'"}], "mark": {"type": "area", "color": "#0000ff", "opacity": 1}, "encoding": {"y": {"field": "hi", "type": "quantitative", "scale": {"domain": [0.5, 3.1]}, "axis": {"values": [1, 2, 3], "title": null}}, "y2": {"field": "lo"}}},
    {"data": {"name": "spike"}, "transform": [{"filter": "datum.s === 'C'"}], "mark": {"type": "rule", "color": "#1a1aff", "strokeWidth": 1.1, "opacity": 0.8}, "encoding": {"y": {"field": "lo", "type": "quantitative", "scale": {"domain": [0.5, 3.1]}, "axis": {"values": [1, 2, 3]}}, "y2": {"field": "hi"}}},
    {"data": {"name": "bed"}, "transform": [{"filter": "datum.s === 'C'"}], "mark": {"type": "line", "color": "#ff0000", "strokeWidth": 7, "strokeCap": "round", "strokeJoin": "round", "invalid": "break-paths-show-domains"}, "encoding": {"y": {"field": "bed", "type": "quantitative", "scale": {"domain": [0.5, 3.1]}, "axis": {"values": [1, 2, 3]}}}},
    {"data": {"name": "bed"}, "transform": [{"filter": "datum.s === 'C'"}], "mark": {"type": "circle", "color": "#ff0000", "size": 45, "opacity": 1}, "encoding": {"y": {"field": "bed", "type": "quantitative", "scale": {"domain": [0.5, 3.1]}, "axis": {"values": [1, 2, 3]}}}},
    {"data": {"name": "bed"}, "transform": [{"filter": "datum.s === 'C'"}], "mark": {"type": "line", "color": "#000000", "strokeWidth": 2}, "encoding": {"y": {"field": "lp", "type": "quantitative", "scale": {"domain": [0.5, 3.1]}, "axis": {"values": [1, 2, 3]}}}}
   ]
  },
  {
   "width": 345, "height": 243,
   "title": {"text": "Station D"},
   "encoding": {"x": {"field": "t", "type": "temporal", "scale": {"domain": [{"year":2024,"month":3,"date":2,"hours":23,"minutes":6},{"year":2024,"month":3,"date":5,"hours":3}]}, "axis": {"values": [{"year":2024,"month":3,"date":3},{"year":2024,"month":3,"date":4},{"year":2024,"month":3,"date":5}], "format": "%b %d", "title": null}}},
   "layer": [
    {"data": {"name": "water"}, "transform": [{"filter": "datum.s === 'D'"}], "mark": {"type": "area", "color": "#0000ff", "opacity": 1}, "encoding": {"y": {"field": "hi", "type": "quantitative", "scale": {"domain": [0.5, 3.1]}, "axis": {"values": [1, 2, 3], "title": null}}, "y2": {"field": "lo"}}},
    {"data": {"name": "spike"}, "transform": [{"filter": "datum.s === 'D'"}], "mark": {"type": "rule", "color": "#1a1aff", "strokeWidth": 1.1, "opacity": 0.8}, "encoding": {"y": {"field": "lo", "type": "quantitative", "scale": {"domain": [0.5, 3.1]}, "axis": {"values": [1, 2, 3]}}, "y2": {"field": "hi"}}},
    {"data": {"name": "bed"}, "transform": [{"filter": "datum.s === 'D'"}], "mark": {"type": "line", "color": "#ff0000", "strokeWidth": 7, "strokeCap": "round", "strokeJoin": "round", "invalid": "break-paths-show-domains"}, "encoding": {"y": {"field": "bed", "type": "quantitative", "scale": {"domain": [0.5, 3.1]}, "axis": {"values": [1, 2, 3]}}}},
    {"data": {"name": "bed"}, "transform": [{"filter": "datum.s === 'D'"}], "mark": {"type": "circle", "color": "#ff0000", "size": 45, "opacity": 1}, "encoding": {"y": {"field": "bed", "type": "quantitative", "scale": {"domain": [0.5, 3.1]}, "axis": {"values": [1, 2, 3]}}}},
    {"data": {"name": "bed"}, "transform": [{"filter": "datum.s === 'D'"}], "mark": {"type": "line", "color": "#000000", "strokeWidth": 2}, "encoding": {"y": {"field": "lp", "type": "quantitative", "scale": {"domain": [0.5, 3.1]}, "axis": {"values": [1, 2, 3]}}}}
   ]
  },
  {
   "width": 345, "height": 277,
   "title": {"text": "Station E"},
   "encoding": {"x": {"field": "t", "type": "temporal", "scale": {"domain": [{"year":2024,"month":3,"date":2,"hours":23,"minutes":6},{"year":2024,"month":3,"date":5,"hours":3}]}, "axis": {"values": [{"year":2024,"month":3,"date":3},{"year":2024,"month":3,"date":4},{"year":2024,"month":3,"date":5}], "format": "%b %d", "title": null}}},
   "layer": [
    {"data": {"name": "water"}, "transform": [{"filter": "datum.s === 'E'"}], "mark": {"type": "area", "color": "#0000ff", "opacity": 1}, "encoding": {"y": {"field": "hi", "type": "quantitative", "scale": {"domain": [0.5, 3.1]}, "axis": {"values": [1, 2, 3], "title": null}}, "y2": {"field": "lo"}}},
    {"data": {"name": "spike"}, "transform": [{"filter": "datum.s === 'E'"}], "mark": {"type": "rule", "color": "#1a1aff", "strokeWidth": 1.1, "opacity": 0.8}, "encoding": {"y": {"field": "lo", "type": "quantitative", "scale": {"domain": [0.5, 3.1]}, "axis": {"values": [1, 2, 3]}}, "y2": {"field": "hi"}}},
    {"data": {"name": "bed"}, "transform": [{"filter": "datum.s === 'E'"}], "mark": {"type": "line", "color": "#ff0000", "strokeWidth": 7, "strokeCap": "round", "strokeJoin": "round", "invalid": "break-paths-show-domains"}, "encoding": {"y": {"field": "bed", "type": "quantitative", "scale": {"domain": [0.5, 3.1]}, "axis": {"values": [1, 2, 3]}}}},
    {"data": {"name": "bed"}, "transform": [{"filter": "datum.s === 'E'"}], "mark": {"type": "circle", "color": "#ff0000", "size": 45, "opacity": 1}, "encoding": {"y": {"field": "bed", "type": "quantitative", "scale": {"domain": [0.5, 3.1]}, "axis": {"values": [1, 2, 3]}}}},
    {"data": {"name": "bed"}, "transform": [{"filter": "datum.s === 'E'"}], "mark": {"type": "line", "color": "#000000", "strokeWidth": 2}, "encoding": {"y": {"field": "lp", "type": "quantitative", "scale": {"domain": [0.5, 3.1]}, "axis": {"values": [1, 2, 3]}}}}
   ]
  },
  {
   "width": 345, "height": 277,
   "title": {"text": "Station F"},
   "encoding": {"x": {"field": "t", "type": "temporal", "scale": {"domain": [{"year":2024,"month":3,"date":2,"hours":23,"minutes":6},{"year":2024,"month":3,"date":5,"hours":3}]}, "axis": {"values": [{"year":2024,"month":3,"date":3},{"year":2024,"month":3,"date":4},{"year":2024,"month":3,"date":5}], "format": "%b %d", "title": null}}},
   "layer": [
    {"data": {"name": "water"}, "transform": [{"filter": "datum.s === 'F'"}], "mark": {"type": "area", "opacity": 1}, "encoding": {"y": {"field": "hi", "type": "quantitative", "scale": {"domain": [0.5, 3.1]}, "axis": {"values": [1, 2, 3], "title": null}}, "y2": {"field": "lo"},
      "color": {"datum": "Water Elevation", "scale": {"domain": ["Water Elevation", "Bed Level", "Bed Level (LP filter)"], "range": ["#0000ff", "#ff0000", "#000000"]},
        "legend": {"title": null, "orient": "bottom-right", "offset": 4, "strokeColor": "#333333", "fillColor": "#ffffff", "padding": 6, "labelFont": "Liberation Sans", "labelFontSize": 17, "labelFontWeight": "bold", "labelColor": "#000000", "symbolType": "M-3.5,0H3.5", "symbolSize": 100, "symbolStrokeWidth": 1.8, "symbolFillColor": "#ff0000", "symbolOffset": 10, "labelOffset": 12.5, "rowPadding": 6}}}},
    {"data": {"name": "spike"}, "transform": [{"filter": "datum.s === 'F'"}], "mark": {"type": "rule", "strokeWidth": 1.1, "opacity": 0.8}, "encoding": {"y": {"field": "lo", "type": "quantitative", "scale": {"domain": [0.5, 3.1]}, "axis": {"values": [1, 2, 3]}}, "y2": {"field": "hi"}, "color": {"datum": "Water Elevation"}}},
    {"data": {"name": "bed"}, "transform": [{"filter": "datum.s === 'F'"}], "mark": {"type": "line", "strokeWidth": 7, "strokeCap": "round", "strokeJoin": "round", "invalid": "break-paths-show-domains"}, "encoding": {"y": {"field": "bed", "type": "quantitative", "scale": {"domain": [0.5, 3.1]}, "axis": {"values": [1, 2, 3]}}, "color": {"datum": "Bed Level"}}},
    {"data": {"name": "bed"}, "transform": [{"filter": "datum.s === 'F'"}], "mark": {"type": "point", "filled": true, "size": 196, "opacity": 1}, "encoding": {"y": {"field": "bed", "type": "quantitative", "scale": {"domain": [0.5, 3.1]}, "axis": {"values": [1, 2, 3]}}, "color": {"datum": "Bed Level"},
      "shape": {"datum": "Bed Level", "scale": {"domain": ["Water Elevation", "Bed Level", "Bed Level (LP filter)"], "range": ["M-3.5,0H3.5", "M-0.5,0A0.5,0.5 0 1,0 0.5,0A0.5,0.5 0 1,0 -0.5,0Z", "M-3.5,0H3.5"]},
        "legend": {"title": null, "orient": "bottom-right", "offset": 4, "strokeColor": "#333333", "fillColor": "#ffffff", "padding": 6, "labelFont": "Liberation Sans", "labelFontSize": 17, "labelFontWeight": "bold", "labelColor": "#000000", "symbolSize": 100, "symbolStrokeWidth": 1.8, "symbolOffset": 10, "labelOffset": 12.5, "rowPadding": 6}}}},
    {"data": {"name": "bed"}, "transform": [{"filter": "datum.s === 'F'"}], "mark": {"type": "line", "strokeWidth": 2}, "encoding": {"y": {"field": "lp", "type": "quantitative", "scale": {"domain": [0.5, 3.1]}, "axis": {"values": [1, 2, 3]}}, "color": {"datum": "Bed Level (LP filter)"}}}
   ]
  }
 ],
 "config": {
  "view": {"stroke": null},
  "font": "Liberation Sans",
  "axis": {"domainColor": "#8c8c8c", "domainWidth": 2, "tickColor": "#8c8c8c", "tickWidth": 1.5, "tickSize": 4, "labelFont": "Liberation Sans", "labelFontSize": 22, "labelFontWeight": "bold", "labelColor": "#000000", "grid": false, "labelFlush": false, "labelOverlap": false, "titleFont": "Liberation Sans", "titleFontSize": 30, "titleFontWeight": "bold", "titleColor": "#000000"},
  "axisX": {"labelPadding": 9},
  "axisY": {"labelPadding": 3},
  "title": {"font": "Liberation Sans", "fontSize": 32, "fontWeight": "bold", "color": "#000000", "anchor": "middle", "frame": "group", "baseline": "alphabetic", "offset": 10}
 }
}
